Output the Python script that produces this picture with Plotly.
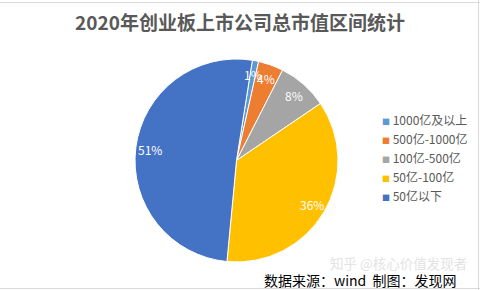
import math
import plotly.graph_objects as go

# ---- data ----
categories = ["1000亿及以上", "500亿-1000亿", "100亿-500亿", "50亿-100亿", "50亿以下"]
shares = [1, 4, 8, 36, 51]
colors = ["#5B9BD5", "#ED7D31", "#A5A5A5", "#FFC000", "#4472C4"]
title_text = "2020年创业板上市公司总市值区间统计"
source_text = "数据来源：wind  制图：发现网"
watermark_text = "知乎 @核心价值发现者"

W, H = 480, 290
ROT = 9  # degrees, first slice start (clockwise from 12 o'clock)
dom_x = [135 / W, 338 / W]
dom_y = [1 - 262 / H, 1 - 59 / H]

FONT = "Noto Sans CJK SC"

fig = go.Figure()
fig.add_trace(go.Pie(
    labels=categories, values=shares, sort=False, direction="clockwise",
    rotation=ROT, marker=dict(colors=colors, line=dict(color="white", width=1)),
    textinfo="none", showlegend=False, domain=dict(x=dom_x, y=dom_y),
    hoverinfo="label+percent",
))

# legend entries (coloured square kept in the text so it sits next to the label)
for cat, col in zip(categories, colors):
    fig.add_trace(go.Scatter(
        x=[None], y=[None], mode="none", showlegend=True,
        name=f'<span style="color:{col};font-size:8px">■</span> {cat}',
    ))

# percentage labels placed along each slice bisector
cx = (dom_x[0] + dom_x[1]) / 2 * W
cy = (1 - (dom_y[0] + dom_y[1]) / 2) * H
r = min((dom_x[1] - dom_x[0]) * W, (dom_y[1] - dom_y[0]) * H) / 2
total = sum(shares)
cum = 0
annotations = []
for v in shares:
    mid = ROT + (cum + v / 2) / total * 360
    cum += v
    a = math.radians(mid)
    px = cx + 0.86 * r * math.sin(a)
    py = cy - 0.86 * r * math.cos(a)
    annotations.append(dict(
        x=px / W, y=1 - py / H, xref="paper", yref="paper", showarrow=False,
        xanchor="center", yanchor="middle",
        text=f"{round(v / total * 100)}%", font=dict(family=FONT, size=12, color="white"),
    ))

annotations.append(dict(
    x=398 / W, y=1 - 263 / H, xref="paper", yref="paper", showarrow=False,
    xanchor="center", yanchor="middle",
    text=watermark_text, font=dict(family=FONT, size=13.5, color="#e3e3e3"),
))
annotations.append(dict(
    x=360 / W, y=1 - 280 / H, xref="paper", yref="paper", showarrow=False,
    xanchor="center", yanchor="middle",
    text=source_text, font=dict(family=FONT, size=14, color="black"),
))

shapes = [
    dict(type="line", xref="paper", yref="paper", x0=0, x1=1, y0=1 - 2.5 / H, y1=1 - 2.5 / H,
         line=dict(color="#d9d9d9", width=1)),
    dict(type="line", xref="paper", yref="paper", x0=478.5 / W, x1=478.5 / W, y0=0, y1=1,
         line=dict(color="#d9d9d9", width=1)),
    dict(type="line", xref="paper", yref="paper", x0=0, x1=1, y0=1 - 288.5 / H, y1=1 - 288.5 / H,
         line=dict(color="#d9d9d9", width=1)),
]

fig.update_layout(
    width=W, height=H, margin=dict(l=0, r=0, t=0, b=0),
    paper_bgcolor="white", plot_bgcolor="white",
    title=dict(text=f"<b>{title_text}</b>", x=0.5, xanchor="center", y=1 - 23 / H,
               yanchor="middle", font=dict(family=FONT, size=19, color="#595959")),
    xaxis=dict(visible=False), yaxis=dict(visible=False),
    legend=dict(x=342 / W, xanchor="left", y=1 - 158.5 / H, yanchor="middle",
                font=dict(family=FONT, size=12, color="#595959"),
                bgcolor="rgba(0,0,0,0)", tracegroupgap=0),
    annotations=annotations, shapes=shapes, font=dict(family=FONT),
)

fig.write_html("out.html")
